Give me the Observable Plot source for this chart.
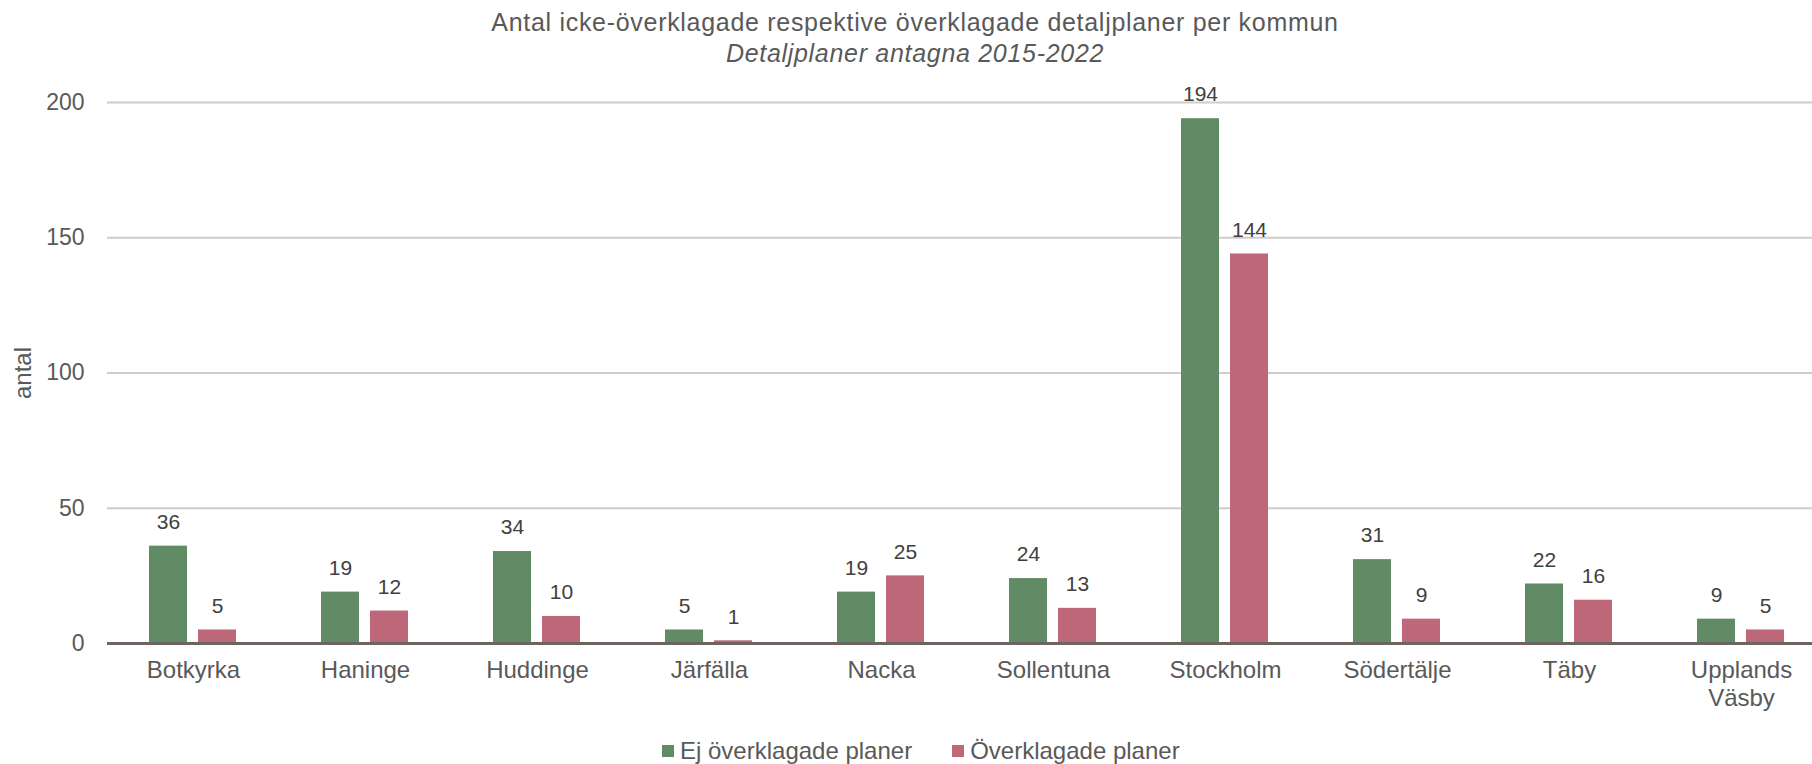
<!DOCTYPE html>
<html>
<head>
<meta charset="utf-8">
<script src="https://cdn.jsdelivr.net/npm/d3@7"></script>
<script src="https://cdn.jsdelivr.net/npm/@observablehq/plot@0.6"></script>
<style>
  html, body { margin: 0; padding: 0; background: #fff; overflow: hidden; }
  #wrap { position: relative; width: 1812px; height: 764px; font-family: "Liberation Sans", Arial, sans-serif; color: #595959; }
  .title { position: absolute; left: 0; width: 1830px; text-align: center; font-size: 25px; letter-spacing: 0.7px; white-space: nowrap; }
  #t1 { top: 7px; line-height: 30px; }
  #t2 { top: 38px; line-height: 30px; font-style: italic; }
  #ylab { position: absolute; left: 23px; top: 373px; transform: translate(-50%, -50%) rotate(-90deg); font-size: 24px; white-space: nowrap; }
  #legend { position: absolute; top: 737px; left: 662px; display: flex; align-items: center; font-size: 24px; white-space: nowrap; }
  .item { display: flex; align-items: center; margin-right: 40px; }
  .sw { width: 12px; height: 12px; margin-right: 6px; }
</style>
</head>
<body>
<div id="wrap">
  <div id="chart"></div>
  <div class="title" id="t1"></div>
  <div class="title" id="t2"></div>
  <div id="ylab"></div>
  <div id="legend"></div>
</div>
<script>
// ---- data ----
const title = "Antal icke-överklagade respektive överklagade detaljplaner per kommun";
const subtitle = "Detaljplaner antagna 2015-2022";
const yLabel = "antal";
const kommuner = ["Botkyrka", "Haninge", "Huddinge", "Järfälla", "Nacka", "Sollentuna", "Stockholm", "Södertälje", "Täby", "Upplands Väsby"];
const serier = ["Ej överklagade planer", "Överklagade planer"];
const ejOverklagade = [36, 19, 34, 5, 19, 24, 194, 31, 22, 9];
const overklagade = [5, 12, 10, 1, 25, 13, 144, 9, 16, 5];
const yTicks = [0, 50, 100, 150, 200];
const colors = ["#618b64", "#be6879"];

const rows = [];
kommuner.forEach((k, i) => {
  rows.push({kommun: k, serie: serier[0], value: ejOverklagade[i]});
  rows.push({kommun: k, serie: serier[1], value: overklagade[i]});
});

document.getElementById("t1").textContent = title;
document.getElementById("t2").textContent = subtitle;
document.getElementById("ylab").textContent = yLabel;

const chart = Plot.plot({
  width: 1812,
  height: 764,
  marginLeft: 105,
  marginRight: -17,
  marginTop: 102,
  marginBottom: 121,
  style: {fontFamily: "'Liberation Sans', Arial, sans-serif", fontSize: "23px", color: "#595959", background: "white"},
  fx: {domain: kommuner, paddingInner: 0, paddingOuter: 0, axis: null, label: null},
  x: {domain: serier, paddingInner: 0.217, paddingOuter: 0.86, axis: null, label: null},
  y: {domain: [0, 200], ticks: yTicks, tickSize: 0, tickPadding: 23, label: null},
  color: {domain: serier, range: colors},
  marks: [
    Plot.ruleY(yTicks.filter(t => t > 0), {stroke: "#d0ccc8", strokeWidth: 2}),
    Plot.barY(rows, {fx: "kommun", x: "serie", y: "value", fill: "serie"}),
    Plot.ruleY([0], {stroke: "#6b6460", strokeWidth: 3}),
    Plot.text(rows, {fx: "kommun", x: "serie", y: "value", text: d => String(d.value), dy: -24, lineAnchor: "middle", fontSize: 21, fill: "#404040"}),
    Plot.text(kommuner, {fx: d => d, text: d => d.replace(" ", "\n"), frameAnchor: "bottom", lineAnchor: "top", dy: 15, lineHeight: 1.15, fontSize: 24, fill: "#595959"})
  ]
});
document.getElementById("chart").appendChild(chart);

const legend = document.getElementById("legend");
serier.forEach((s, i) => {
  const it = document.createElement("div");
  it.className = "item";
  const sw = document.createElement("div");
  sw.className = "sw";
  sw.style.background = colors[i];
  const lab = document.createElement("span");
  lab.textContent = s;
  it.appendChild(sw);
  it.appendChild(lab);
  legend.appendChild(it);
});
</script>
</body>
</html>
